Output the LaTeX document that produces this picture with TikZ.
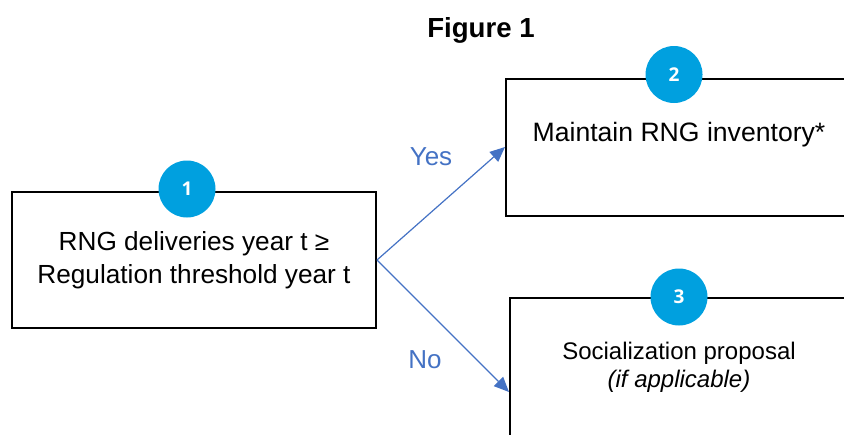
\documentclass[tikz,border=0pt]{standalone}
\usepackage{fontspec}
\setmainfont{Liberation Sans}
\newfontfamily\numfont{Open Sans}
\usetikzlibrary{arrows.meta,positioning}
\definecolor{stepblue}{RGB}{0,160,223}
\definecolor{flowblue}{RGB}{68,114,196}

\begin{document}
\begin{tikzpicture}[x=0.5pt,y=-0.5pt,
  box/.style={draw=black,line width=1pt,inner sep=0pt,fill=white},
  stepnum/.style={circle,fill=stepblue,text=white,minimum size=28.5pt,inner sep=0pt,
    font=\numfont\bfseries\fontsize{9.5}{10}\selectfont},
  boxtext/.style={align=center,font=\fontsize{13.1}{16.5}\selectfont},
  flow/.style={draw=flowblue,line width=0.6pt,-{Triangle[length=7.5pt,width=6.5pt]}},
  answer/.style={text=flowblue,font=\fontsize{13}{15}\selectfont}]

\useasboundingbox (0,0) rectangle (844,434);
\clip (0,0) rectangle (844,434);

% Title
\node[font=\bfseries\fontsize{13.8}{16}\selectfont] (title) at (481,30) {Figure 1};

% Boxes
\node[box,boxtext,minimum width=182pt,minimum height=68pt] (box1) at (194,260)
{RNG deliveries year t ≥\\Regulation threshold year t};

\node[box,minimum width=173pt,minimum height=68.5pt] (box2) at (679,147) {};
\node[boxtext,font=\fontsize{13.3}{16}\selectfont] (text2) at (679,135) {Maintain RNG inventory*};

\node[box,minimum width=169pt,minimum height=94pt] (box3) at (679,392) {};
\node[boxtext,font=\fontsize{12}{14}\selectfont] (text3) at (679,367)
{Socialization proposal\\\textit{(if applicable)}};

% Arrows
\draw[flow] (box1.east) -- (box2.west);
\draw[flow] (box1.east) -- (box3.west);

\node[answer] (yes) at (431,157) {Yes};
\node[answer] (no) at (425,360) {No};

% Numbers
\node[stepnum,xshift=-3.5pt,yshift=1pt] (num1) at (box1.north) {1};
\node[stepnum,xshift=-2.5pt,yshift=1.5pt] (num2) at (box2.north) {2};
\node[stepnum] (num3) at (box3.north) {3};

\end{tikzpicture}
\end{document}
